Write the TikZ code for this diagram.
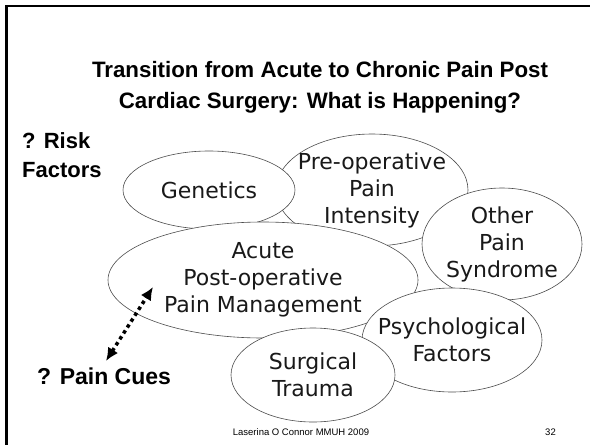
\documentclass[tikz,border=0pt]{standalone}
\usepackage{fontspec}
\setmainfont{Liberation Sans}
\newfontfamily\bubfont{DejaVu Sans}
\usetikzlibrary{shapes.geometric,arrows.meta}
\begin{document}
\begin{tikzpicture}[x=1pt, y=-1pt, >={Latex[length=13pt,width=12pt]},
    bub/.style={ellipse, draw=black!70, line width=.6pt, fill=white, inner sep=-25pt,
        align=center, text=black!90, font=\bubfont\fontsize{22}{27}\selectfont},
    head/.style={inner sep=0pt, font=\bfseries\fontsize{22.3}{31}\selectfont}]
\useasboundingbox (0,0) rectangle (590,445);
\draw[line width=2.5pt] (6.5,445)--(6.5,6)--(590,6);
\node[head, align=center, anchor=base] (title) at (320,108)
    {Transition from Acute to Chronic Pain Post\\Cardiac Surgery: What is Happening?};
\node[head, align=left, anchor=base west, font=\bfseries\fontsize{22}{29}\selectfont] (risk) at (22,177)
    {? Risk\\Factors};
\foreach \n/\x/\y/\w/\h/\t in {
    preop/372/190/192/112/{Pre-operative\\Pain\\Intensity},
    gen/209/190/172/78/{Genetics},
    other/502/244/160/112/{Other\\Pain\\Syndrome},
    acute/263/280/310/116/{Acute\\Post-operative\\Pain Management},
    psych/452/340/180/104/{Psychological\\Factors},
    surg/313/375/164/94/{Surgical\\Trauma}}
{
    \node[bub, minimum width=\w pt, minimum height=\h pt] (\n) at (\x,\y) {\t};
}
\node[head, anchor=base west, font=\bfseries\fontsize{23}{28}\selectfont] (cues) at (37,384) {? Pain Cues};
\coordinate (cuetip) at (106,361);
\coordinate (acutetip) at (153,287);
\draw[<->, line width=3.5pt, dash pattern=on 3.5pt off 3.5pt] (cuetip)--(acutetip);
\node[inner sep=0pt, anchor=base, font=\fontsize{9.5}{11}\selectfont] (foot) at (301,435)
    {Laserina O Connor MMUH 2009};
\node[inner sep=0pt, anchor=base east, font=\fontsize{9.5}{11}\selectfont] (page) at (556,435) {32};
\end{tikzpicture}
\end{document}
